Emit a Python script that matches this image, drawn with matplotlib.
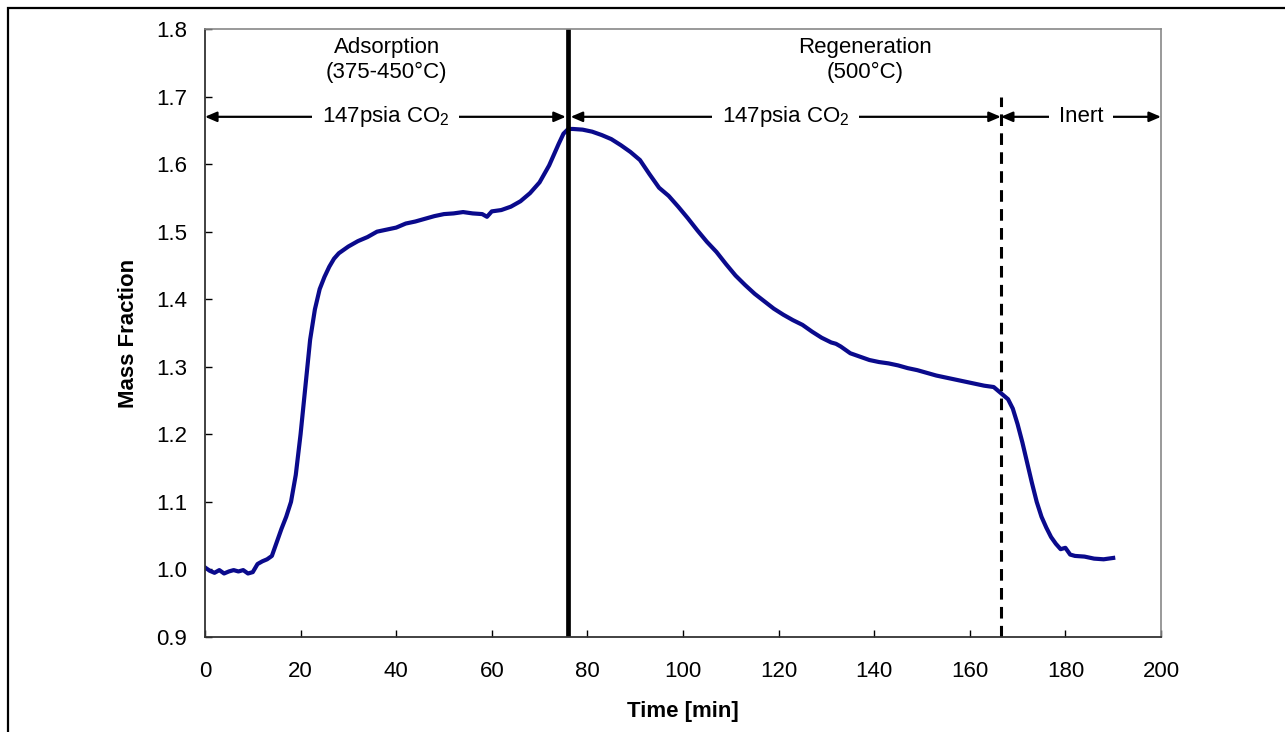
import numpy as np
import matplotlib.pyplot as plt
from matplotlib.patches import Rectangle

plt.rcParams['font.family'] = ['Liberation Sans', 'DejaVu Sans']
plt.rcParams['mathtext.fontset'] = 'custom'
plt.rcParams['mathtext.rm'] = 'Liberation Sans'

# TGA run: mass fraction vs time
time_min = [0, 1, 2, 3, 4, 5, 6, 7, 8, 9, 10, 11, 12, 13, 14, 15, 16, 17, 18, 19,
            20, 21, 22, 23, 24, 25, 26, 27, 28, 30, 32, 34, 36, 38, 40, 42, 44, 46,
            48, 50, 52, 54, 56, 58, 59, 60, 62, 64, 66, 68, 70, 72, 74, 75, 76, 77,
            79, 81, 83, 85, 87, 89, 91, 93, 95, 97, 99, 101, 103, 105, 107, 109, 111,
            113, 115, 117, 119, 121, 123, 125, 127, 129, 131, 132, 133, 135, 137, 139,
            141, 143, 145, 147, 149, 151, 153, 155, 157, 159, 161, 163, 165, 166, 167,
            168, 169, 170, 171, 172, 173, 174, 175, 176, 177, 178, 179, 180, 181, 182,
            184, 186, 188, 190]
mass_frac = [1.003, 0.998, 0.995, 0.999, 0.994, 0.997, 0.999, 0.997, 0.999, 0.994,
             0.996, 1.008, 1.012, 1.015, 1.020, 1.040, 1.060, 1.078, 1.100, 1.140,
             1.200, 1.270, 1.340, 1.385, 1.415, 1.433, 1.448, 1.460, 1.468, 1.478,
             1.486, 1.492, 1.500, 1.503, 1.506, 1.512, 1.515, 1.519, 1.523, 1.526,
             1.527, 1.529, 1.527, 1.526, 1.522, 1.530, 1.532, 1.537, 1.545, 1.557,
             1.573, 1.598, 1.630, 1.645, 1.652, 1.652, 1.651, 1.648, 1.643, 1.637,
             1.628, 1.618, 1.606, 1.585, 1.565, 1.553, 1.537, 1.520, 1.502, 1.485,
             1.470, 1.452, 1.435, 1.421, 1.408, 1.397, 1.386, 1.377, 1.369, 1.362,
             1.352, 1.343, 1.336, 1.334, 1.330, 1.320, 1.315, 1.310, 1.307, 1.305,
             1.302, 1.298, 1.295, 1.291, 1.287, 1.284, 1.281, 1.278, 1.275, 1.272,
             1.270, 1.264, 1.258, 1.252, 1.238, 1.215, 1.188, 1.158, 1.128, 1.100,
             1.078, 1.062, 1.048, 1.038, 1.030, 1.032, 1.022, 1.020, 1.019, 1.016,
             1.015, 1.017]

t_switch = 76       # adsorption -> regeneration
t_inert = 166.5     # CO2 -> inert
arrow_y = 1.67
x_ticks = list(range(0, 201, 20))
y_ticks = [0.9, 1.0, 1.1, 1.2, 1.3, 1.4, 1.5, 1.6, 1.7, 1.8]

fs = 16

fig = plt.figure(figsize=(12.85, 7.32), dpi=100)
ax = fig.add_axes([0.1595, 0.1298, 0.744, 0.8306])

# frame around the figure
fig.patches.append(Rectangle((8 / 1285, -0.1), 1.2, 1.1 - 8 / 732,
                             transform=fig.transFigure, fill=False,
                             edgecolor='black', lw=1.6))

ax.plot(time_min, mass_frac, color='#0a0a8c', lw=3.0, solid_joinstyle='round')

ax.axvline(t_switch, color='black', lw=3.4)
ax.plot([t_inert, t_inert], [0.9, 1.70], color='black', lw=2.2, dashes=(3.8, 2.4))

# phase arrows
def phase_arrow(x0, x1, label):
    ax.annotate('', xy=(x1, arrow_y), xytext=(x0, arrow_y),
                arrowprops=dict(arrowstyle='<|-|>,head_length=0.7,head_width=0.3',
                                color='black', lw=1.6, shrinkA=0, shrinkB=0))
    ax.text((x0 + x1) / 2, arrow_y, label, ha='center', va='center', fontsize=fs,
            bbox=dict(facecolor='white', edgecolor='none', pad=7))

phase_arrow(0, t_switch - 0.5, '147psia CO$_2$')
phase_arrow(t_switch + 0.5, t_inert, '147psia CO$_2$')
phase_arrow(t_inert, 200, 'Inert')

ax.text(38, 1.773, 'Adsorption', ha='center', va='center', fontsize=fs)
ax.text(38, 1.735, '(375-450°C)', ha='center', va='center', fontsize=fs)
ax.text(138, 1.773, 'Regeneration', ha='center', va='center', fontsize=fs)
ax.text(138, 1.735, '(500°C)', ha='center', va='center', fontsize=fs)

ax.set_xlim(0, 200)
ax.set_ylim(0.9, 1.8)
ax.set_xticks(x_ticks)
ax.set_yticks(y_ticks)
ax.set_yticklabels([f'{v:.1f}' for v in y_ticks])
ax.tick_params(axis='both', direction='in', length=5, width=1, labelsize=fs)
ax.tick_params(axis='y', pad=13)
ax.tick_params(axis='x', pad=17)

for side in ['left', 'bottom']:
    ax.spines[side].set_color('#333333')
    ax.spines[side].set_linewidth(1.3)
for side in ['top', 'right']:
    ax.spines[side].set_color('#888888')
    ax.spines[side].set_linewidth(1.2)

ax.set_xlabel('Time [min]', fontsize=fs, fontweight='bold', labelpad=14)
ax.set_ylabel('Mass Fraction', fontsize=fs, fontweight='bold', labelpad=12)

fig.savefig('out.png', dpi=100)
